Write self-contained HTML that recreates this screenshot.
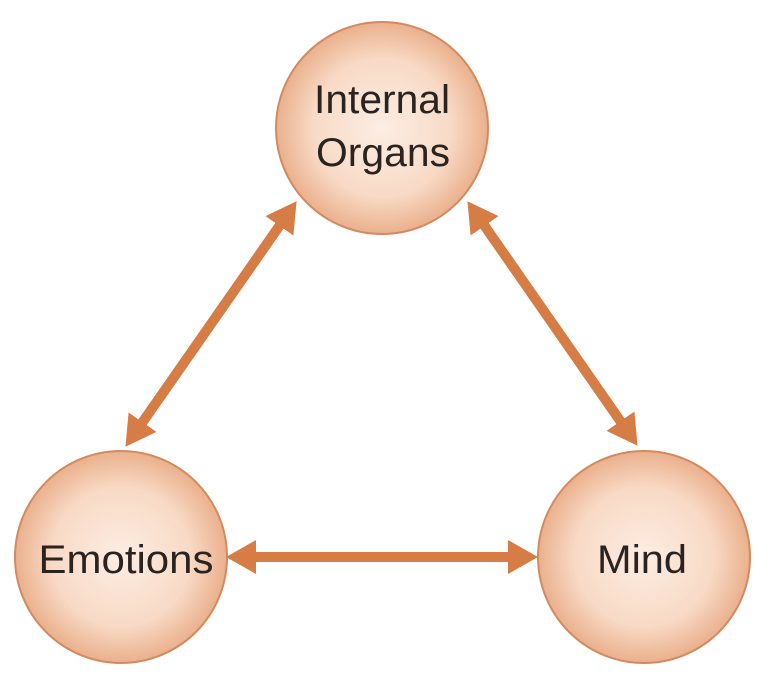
<!DOCTYPE html>
<html><head><meta charset="utf-8"><style>
html,body{margin:0;padding:0;background:#fff;}
svg{display:block;}
text{font-family:"Liberation Sans",Arial,sans-serif;fill:#2a2320;}
</style></head><body>
<svg width="768" height="681" viewBox="0 0 768 681" xmlns="http://www.w3.org/2000/svg">
<defs>
<radialGradient id="g" cx="50%" cy="50%" r="50%">
<stop offset="0%" stop-color="#fcede3"/>
<stop offset="65%" stop-color="#f8dac6"/>
<stop offset="100%" stop-color="#eab08c"/>
</radialGradient>
<marker id="ah" markerUnits="userSpaceOnUse" markerWidth="32" markerHeight="34" refX="1" refY="17" orient="auto-start-reverse">
<polygon points="0,0 30,17 0,34" fill="#d67c45"/>
</marker>
</defs>
<circle cx="382" cy="128" r="106" fill="url(#g)" stroke="#d48a5e" stroke-width="2"/>
<circle cx="121" cy="557" r="106" fill="url(#g)" stroke="#d48a5e" stroke-width="2"/>
<circle cx="644" cy="557" r="106" fill="url(#g)" stroke="#d48a5e" stroke-width="2"/>
<line x1="142" y1="423" x2="280" y2="225" stroke="#d67c45" stroke-width="10" marker-start="url(#ah)" marker-end="url(#ah)"/>
<line x1="484" y1="225" x2="621" y2="422" stroke="#d67c45" stroke-width="10" marker-start="url(#ah)" marker-end="url(#ah)"/>
<line x1="255" y1="557" x2="509" y2="557" stroke="#d67c45" stroke-width="10" marker-start="url(#ah)" marker-end="url(#ah)"/>
<text x="382" y="113" font-size="40" text-anchor="middle" textLength="136" lengthAdjust="spacingAndGlyphs">Internal</text>
<text x="383" y="166" font-size="40" text-anchor="middle" textLength="134" lengthAdjust="spacingAndGlyphs">Organs</text>
<text x="126" y="573" font-size="40" text-anchor="middle" textLength="175" lengthAdjust="spacingAndGlyphs">Emotions</text>
<text x="642" y="573" font-size="40" text-anchor="middle" textLength="90" lengthAdjust="spacingAndGlyphs">Mind</text>
</svg>
</body></html>
